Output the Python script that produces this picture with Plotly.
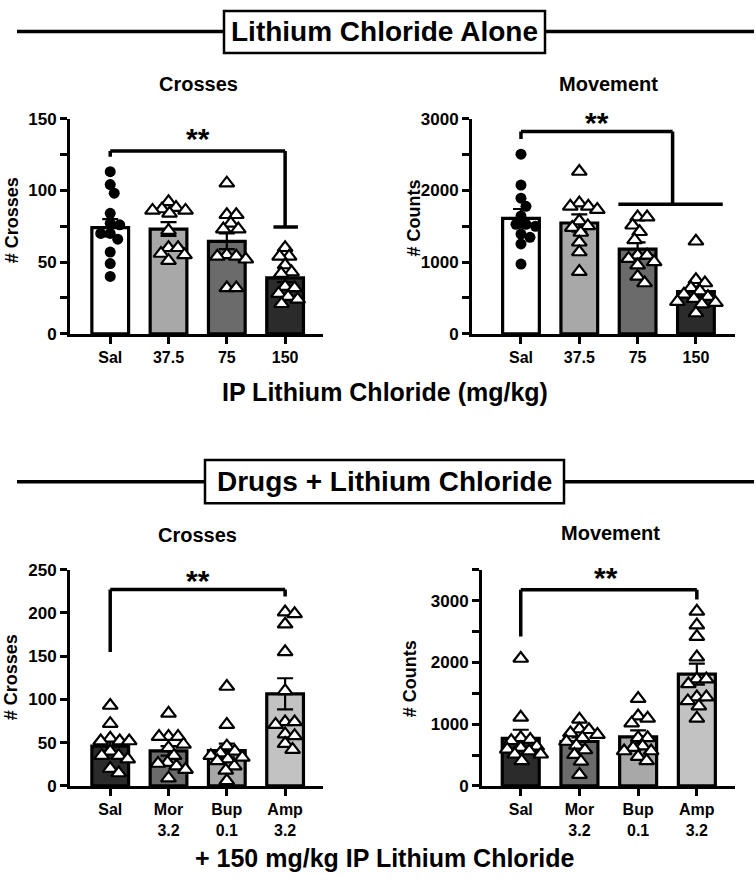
import plotly.graph_objects as go

W, H = 756, 886

# ---------------- data ----------------
top_cats = ["Sal", "37.5", "75", "150"]
bot_cats = ["Sal", "Mor<br>3.2", "Bup<br>0.1", "Amp<br>3.2"]

# Lithium chloride alone - Crosses
lic_cross_sal = [113, 104, 98, 84, 77, 76, 70, 70, 66, 57, 49, 40]
lic_cross_375 = [92, 88, 87, 86, 86, 84, 72, 60, 60, 56, 55, 51]
lic_cross_75 = [105, 83, 83, 77, 73, 73, 55, 54, 54, 52, 32, 32]
lic_cross_150 = [60, 54, 54, 48, 43, 42, 33, 32, 28, 26, 24, 21]
lic_cross_mean = [74, 73, 64.5, 39]
lic_cross_sem = [6.0, 4.8, 5.5, 3.0]

# Lithium chloride alone - Movement
lic_move_sal = [2504, 2073, 1891, 1777, 1641, 1527, 1527, 1500, 1391, 1345, 1254, 973]
lic_move_375 = [2263, 1823, 1777, 1777, 1732, 1573, 1504, 1482, 1413, 1277, 1141, 868]
lic_move_75 = [1627, 1627, 1514, 1423, 1309, 1095, 1095, 1050, 1004, 959, 800, 709]
lic_move_150 = [1291, 754, 709, 641, 595, 550, 518, 491, 450, 436, 414, 291]
lic_move_mean = [1610, 1545, 1180, 590]
lic_move_sem = [130, 120, 95, 70]

# Drugs + lithium chloride - Crosses
drug_cross_sal = [93, 72, 55, 52, 52, 52, 40, 35, 35, 31, 20, 15]
drug_cross_mor = [84, 57, 57, 57, 48, 44, 35, 27, 26, 23, 19, 9]
drug_cross_bup = [115, 71, 46, 40, 38, 35, 33, 31, 29, 23, 18, 6]
drug_cross_amp = [201, 199, 187, 155, 110, 74, 74, 71, 60, 58, 49, 42]
drug_cross_mean = [46, 40.5, 41, 106.5]
drug_cross_sem = [6, 5.5, 8, 18]

# Drugs + lithium chloride - Movement
drug_move_sal = [2063, 1111, 778, 751, 730, 640, 619, 593, 566, 513, 513, 407]
drug_move_mor = [1079, 921, 910, 857, 831, 778, 720, 656, 582, 508, 397, 185]
drug_move_bup = [1413, 1132, 1095, 1016, 778, 778, 645, 619, 566, 566, 476, 407]
drug_move_amp = [2825, 2603, 2418, 2085, 1730, 1730, 1651, 1439, 1439, 1376, 1291, 1095]
drug_move_mean = [770, 720, 795, 1810]
drug_move_sem = [140, 65, 105, 170]

# ---------------- styling ----------------
FONT = "Liberation Sans, Arial, Helvetica, sans-serif"
top_fill = ["#ffffff", "#a8a8a8", "#6b6b6b", "#2b2b2b"]
bot_fill = ["#2b2b2b", "#6b6b6b", "#a8a8a8", "#c2c2c2"]


def px(x):
    return x / W


def py(y):
    return 1 - y / H


# panel geometry in pixels: (left, right, top, bottom), x range, y range
panels = [
    dict(box=(70, 323, 112, 332), xr=[-0.69, 3.65], yr=[0, 150], dtick=50, minor=25,
         cats=top_cats, means=lic_cross_mean, sems=lic_cross_sem, fills=top_fill,
         groups=[lic_cross_sal, lic_cross_375, lic_cross_75, lic_cross_150],
         symbols=["circle", "triangle-up", "triangle-up", "triangle-up"]),
    dict(box=(472, 735, 112, 332), xr=[-0.84, 3.67], yr=[0, 3000], dtick=1000, minor=500,
         cats=top_cats, means=lic_move_mean, sems=lic_move_sem, fills=top_fill,
         groups=[lic_move_sal, lic_move_375, lic_move_75, lic_move_150],
         symbols=["circle", "triangle-up", "triangle-up", "triangle-up"]),
    dict(box=(70, 323, 573, 794), xr=[-0.69, 3.65], yr=[0, 250], dtick=50, minor=None,
         cats=bot_cats, means=drug_cross_mean, sems=drug_cross_sem, fills=bot_fill,
         groups=[drug_cross_sal, drug_cross_mor, drug_cross_bup, drug_cross_amp],
         symbols=["triangle-up"] * 4),
    dict(box=(482, 735, 573, 794), xr=[-0.66, 3.65], yr=[0, 3500], dtick=1000, minor=500,
         cats=bot_cats, means=drug_move_mean, sems=drug_move_sem, fills=bot_fill,
         groups=[drug_move_sal, drug_move_mor, drug_move_bup, drug_move_amp],
         symbols=["triangle-up"] * 4),
]


def swarm(vals, ppy, ppc, d=9.5, maxoff=20.0):
    """simple beeswarm: returns x offsets (category units)"""
    placed = []
    offs = []
    for v in vals:
        y = v * ppy
        best, bestgap = 0.0, -1e9
        chosen = None
        for k in range(0, int(maxoff * 2) + 1):
            for c in ([0.0] if k == 0 else [k * 0.5, -k * 0.5]):
                gap = min([((c - qx) ** 2 + (y - qy) ** 2) ** 0.5 for qx, qy in placed] or [1e9])
                if gap >= d:
                    chosen = c
                    break
                if gap > bestgap:
                    best, bestgap = c, gap
            if chosen is not None:
                break
        if chosen is None:
            chosen = best
        placed.append((chosen, y))
        offs.append(chosen / ppc)
    return offs


fig = go.Figure()
layout = dict(width=W, height=H, margin=dict(l=0, r=0, t=0, b=0, pad=0), autosize=False,
              paper_bgcolor="white", plot_bgcolor="white", showlegend=False,
              font=dict(family=FONT, color="black", size=16, weight="bold"))

for i, p in enumerate(panels):
    n = "" if i == 0 else str(i + 1)
    xa, ya = "x" + n, "y" + n
    l, r, t, b = p["box"]
    ppc = (r - l) / (p["xr"][1] - p["xr"][0])
    ppy = (b - t) / (p["yr"][1] - p["yr"][0])
    xs = list(range(len(p["cats"])))
    fig.add_trace(go.Bar(
        x=xs, y=p["means"], width=0.63, xaxis=xa, yaxis=ya,
        marker=dict(color=p["fills"], line=dict(color="black", width=3.2)),
        error_y=dict(type="data", array=p["sems"], color="black", thickness=2.2, width=8),
    ))
    for j, g in enumerate(p["groups"]):
        offs = swarm(g, ppy, ppc)
        sym = p["symbols"][j]
        if sym == "circle":
            mk = dict(symbol="circle", size=11, color="black", line=dict(color="black", width=0))
        else:
            mk = dict(symbol="triangle-up", size=13, color="white", line=dict(color="black", width=2.2))
        fig.add_trace(go.Scatter(
            x=[j + o for o in offs], y=g, mode="markers", marker=mk,
            xaxis=xa, yaxis=ya, cliponaxis=False, hoverinfo="skip"))

    xkey = "xaxis" + n
    ykey = "yaxis" + n
    layout[xkey] = dict(domain=[px(l), px(r)], anchor=ya, range=p["xr"],
                        tickmode="array", tickvals=xs, ticktext=p["cats"],
                        ticks="outside", ticklen=7, tickwidth=2.5, tickcolor="black",
                        showline=True, linewidth=3, linecolor="black",
                        showgrid=False, zeroline=False, fixedrange=True,
                        tickfont=dict(family=FONT, size=16, weight="bold", color="black"))
    ydict = dict(domain=[py(b), py(t)], anchor=xa, range=p["yr"],
                 tickmode="linear", tick0=0, dtick=p["dtick"],
                 ticks="outside", ticklen=7, tickwidth=2.5, tickcolor="black",
                 showline=True, linewidth=3, linecolor="black",
                 showgrid=False, zeroline=False, fixedrange=True,
                 tickfont=dict(family=FONT, size=17, weight="bold", color="black"))
    if p["minor"]:
        ydict["minor"] = dict(dtick=p["minor"], tick0=0, ticks="outside", ticklen=7,
                              tickwidth=2.5, tickcolor="black", showgrid=False)
    layout[ykey] = ydict

shapes = []
annotations = []


def seg(xa, ya, x0, y0, x1, y1, w=3.5):
    shapes.append(dict(type="line", xref=xa, yref=ya, x0=x0, y0=y0, x1=x1, y1=y1,
                       line=dict(color="black", width=w)))


def star(xa, ya, x, y):
    annotations.append(dict(text="**", xref=xa, yref=ya, x=x, y=y, showarrow=False,
                            font=dict(family=FONT, size=30, weight="bold", color="black")))


# significance brackets
seg("x", "y", 0, 127.5, 3, 127.5)
seg("x", "y", 0, 127.5, 0, 123.5)
seg("x", "y", 3, 127.5, 3, 74.5)
seg("x", "y", 2.8, 74.5, 3.22, 74.5)
star("x", "y", 1.5, 136)

seg("x2", "y2", 0, 2820, 2.6, 2820)
seg("x2", "y2", 0, 2820, 0, 2715)
seg("x2", "y2", 2.6, 2820, 2.6, 1805)
seg("x2", "y2", 1.67, 1805, 3.46, 1805)
star("x2", "y2", 1.3, 2950)

seg("x3", "y3", 0, 227, 3, 227)
seg("x3", "y3", 0, 227, 0, 155)
seg("x3", "y3", 3, 227, 3, 219)
star("x3", "y3", 1.5, 238)

seg("x4", "y4", 0, 3175, 3, 3175)
seg("x4", "y4", 0, 3175, 0, 2418)
seg("x4", "y4", 3, 3175, 3, 3016)
star("x4", "y4", 1.45, 3370)

# section headers (line with boxed title)
for (yc, x0, x1, top, bot, label) in [(23, 224, 545, 2, 45, "Lithium Chloride Alone"),
                                      (483, 205, 564, 461, 505, "Drugs + Lithium Chloride")]:
    shapes.append(dict(type="line", xref="paper", yref="paper", x0=px(17), x1=px(754),
                       y0=py(yc), y1=py(yc), line=dict(color="black", width=3.5)))
    shapes.append(dict(type="rect", xref="paper", yref="paper", x0=px(x0), x1=px(x1),
                       y0=py(bot), y1=py(top), fillcolor="white",
                       line=dict(color="black", width=2.5)))
    annotations.append(dict(text=label, xref="paper", yref="paper", x=px((x0 + x1) / 2),
                            y=py(yc), showarrow=False, xanchor="center", yanchor="middle",
                            font=dict(family=FONT, size=28, weight="bold", color="black")))

# panel titles
for (txt, x, y) in [("Crosses", 198, 77), ("Movement", 608, 77),
                    ("Crosses", 197, 538), ("Movement", 610, 535)]:
    annotations.append(dict(text=txt, xref="paper", yref="paper", x=px(x), y=py(y),
                            showarrow=False, xanchor="center", yanchor="middle",
                            font=dict(family=FONT, size=20, weight="bold", color="black")))

# y-axis titles
for (txt, x, y) in [("# Crosses", 12, 216), ("# Counts", 414, 214),
                    ("# Crosses", 11, 683), ("# Counts", 410, 685)]:
    annotations.append(dict(text=txt, xref="paper", yref="paper", x=px(x), y=py(y),
                            showarrow=False, textangle=-90, xanchor="center", yanchor="middle",
                            font=dict(family=FONT, size=18, weight="bold", color="black")))

# x-axis group titles
for (txt, x, y) in [("IP Lithium Chloride (mg/kg)", 385, 391),
                    ("+ 150 mg/kg IP Lithium Chloride", 385, 868)]:
    annotations.append(dict(text=txt, xref="paper", yref="paper", x=px(x), y=py(y),
                            showarrow=False, xanchor="center", yanchor="middle",
                            font=dict(family=FONT, size=25, weight="bold", color="black")))

layout["shapes"] = shapes
layout["annotations"] = annotations
fig.update_layout(**layout)
fig.write_html("out.html", config={"displayModeBar": False},
               post_script="document.body.style.margin='0px';document.body.style.padding='0px';document.body.style.overflow='hidden';")
